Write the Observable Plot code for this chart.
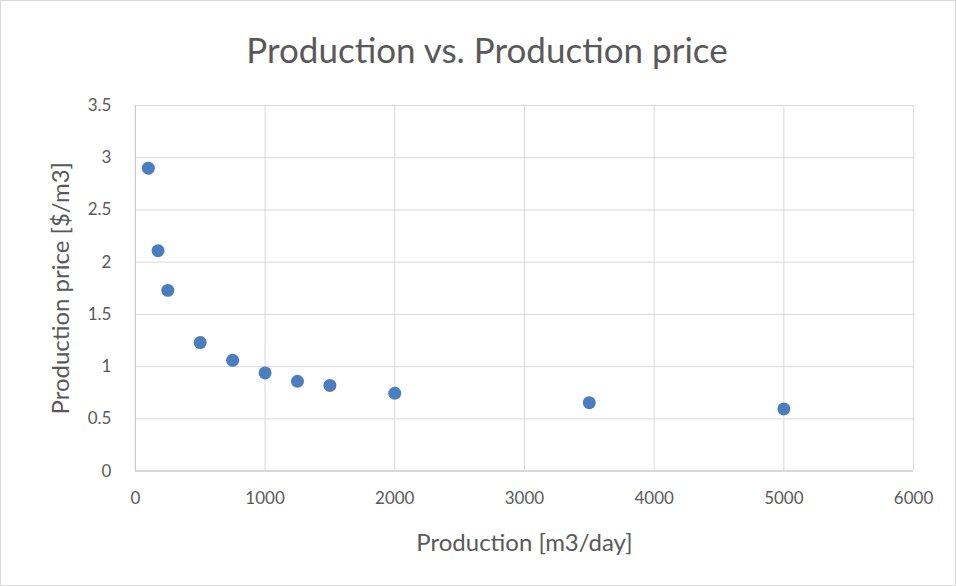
<!DOCTYPE html>
<html>
<head>
<meta charset="utf-8">
<script src="https://cdn.jsdelivr.net/npm/d3@7"></script>
<script src="https://cdn.jsdelivr.net/npm/@observablehq/plot@0.6"></script>
<style>
  html, body { margin: 0; padding: 0; background: #fff; }
  #chart { position: relative; width: 954px; height: 584px; border: 1px solid #d9d9d9; background: #fff; overflow: hidden; }
  #title { position: absolute; left: 0; top: 28px; width: 972px; text-align: center; font-family: Lato, "Open Sans", sans-serif; font-size: 35px; color: #595959; line-height: 40px; }
  #plot { position: absolute; left: -1px; top: 79px; }
</style>
</head>
<body>
<div id="chart">
  <div id="title">Production vs. Production price</div>
  <div id="plot"></div>
</div>
<script>
const production = [100, 175, 250, 500, 750, 1000, 1250, 1500, 2000, 3500, 5000];
const price = [2.9, 2.11, 1.73, 1.23, 1.06, 0.94, 0.86, 0.82, 0.745, 0.655, 0.595];
const xTicks = [0, 1000, 2000, 3000, 4000, 5000, 6000];
const yTicks = [0, 0.5, 1, 1.5, 2, 2.5, 3, 3.5];
const xTitle = "Production [m3/day]";
const yTitle = "Production price [$/m3]";

const data = production.map((p, i) => ({production: p, price: price[i]}));
const grey = "#595959";

const chart = Plot.plot({
  width: 956,
  height: 507,
  marginTop: 25,
  marginBottom: 116,
  marginLeft: 135,
  marginRight: 42,
  style: { fontFamily: "Lato, 'Open Sans', sans-serif", fontSize: "17px", color: grey, background: "#fff" },
  x: { domain: [0, 6000], ticks: xTicks, label: null },
  y: { domain: [0, 3.5], ticks: yTicks, label: null },
  marks: [
    Plot.gridX(xTicks, { stroke: "#d9d9d9", strokeOpacity: 1, strokeWidth: 1 }),
    Plot.gridY(yTicks, { stroke: "#d9d9d9", strokeOpacity: 1, strokeWidth: 1 }),
    Plot.ruleX([0], { stroke: "#c8c8c8", strokeWidth: 1 }),
    Plot.ruleY([0], { stroke: "#c8c8c8", strokeWidth: 1 }),
    Plot.axisX(xTicks, { tickSize: 0, tickPadding: 21, fill: grey, fontSize: 17, label: null, tickFormat: d => String(d) }),
    Plot.axisY(yTicks, { tickSize: 0, tickPadding: 24, fill: grey, fontSize: 17, label: null, tickFormat: d => String(d) }),
    Plot.dot(data, { x: "production", y: "price", r: 6.5, fill: "#4a7ebf", stroke: "none" }),
    Plot.text([xTitle], { frameAnchor: "bottom", dy: 72, lineAnchor: "middle", textAnchor: "middle", fill: grey, fontSize: 24, text: d => d }),
    Plot.text([yTitle], { frameAnchor: "left", dx: -74, lineAnchor: "middle", textAnchor: "middle", rotate: -90, fill: grey, fontSize: 24, text: d => d })
  ]
});
document.getElementById("plot").appendChild(chart);
</script>
</body>
</html>
